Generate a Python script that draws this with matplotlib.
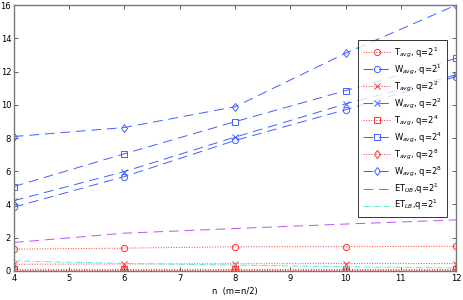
import numpy as np
import matplotlib
matplotlib.use('Agg')
import matplotlib.pyplot as plt

n = [4, 6, 8, 10, 12]

# T_avg (red, dotted) and W_avg (blue, dashed) for q = 2^1, 2^2, 2^4, 2^8
t_q1 = [1.31, 1.37, 1.45, 1.46, 1.48]
w_q1 = [3.84, 5.68, 7.85, 9.70, 11.70]
t_q2 = [0.40, 0.42, 0.43, 0.44, 0.44]
w_q2 = [4.23, 5.98, 8.05, 10.05, 11.80]
t_q4 = [0.12, 0.12, 0.12, 0.12, 0.12]
w_q4 = [5.08, 7.05, 8.98, 10.85, 12.80]
t_q8 = [0.03, 0.03, 0.03, 0.03, 0.03]
w_q8 = [8.09, 8.63, 9.88, 13.10, 16.00]
et_ub = [1.71, 2.27, 2.55, 2.82, 3.07]
et_lb = [0.60, 0.45, 0.35, 0.25, 0.18]

red = '#ff3030'
blue = '#4060ff'
dash = (10, 6)

fig = plt.figure(figsize=(4.63, 3.0), dpi=100)
ax = fig.add_axes([0.030, 0.097, 0.955, 0.886])

kw = dict(lw=0.7, ms=4.5, mfc='none', mew=0.7)
ax.plot(n, t_q1, ':', color=red, marker='o', label=r'T$_{avg}$, q=2$^1$', **kw)
ax.plot(n, w_q1, '--', color=blue, marker='o', label=r'W$_{avg}$, q=2$^1$', dashes=dash, **kw)
ax.plot(n, t_q2, ':', color=red, marker='x', label=r'T$_{avg}$, q=2$^2$', **dict(kw, ms=4))
ax.plot(n, w_q2, '--', color=blue, marker='x', label=r'W$_{avg}$, q=2$^2$', dashes=dash, **dict(kw, ms=4))
ax.plot(n, t_q4, ':', color=red, marker='s', label=r'T$_{avg}$, q=2$^4$', **dict(kw, ms=4))
ax.plot(n, w_q4, '--', color=blue, marker='s', label=r'W$_{avg}$, q=2$^4$', dashes=dash, **dict(kw, ms=4))
ax.plot(n, t_q8, ':', color=red, marker='d', label=r'T$_{avg}$, q=2$^8$', **kw)
ax.plot(n, w_q8, '--', color=blue, marker='d', label=r'W$_{avg}$, q=2$^8$', dashes=dash, **kw)
ax.plot(n, et_ub, '--', color='#c050f0', lw=0.7, dashes=dash, label=r'ET$_{UB}$,q=2$^1$')
ax.plot(n, et_lb, '-.', color='#60e8d8', lw=0.7, label=r'ET$_{LB}$,q=2$^1$')

ax.set_xlim(4, 12)
ax.set_ylim(0, 16)
ax.set_xticks(range(4, 13))
ax.set_yticks(range(0, 17, 2))
ax.tick_params(direction='in', labelsize=6, length=3, width=0.6, top=True, right=True, pad=2, colors='#444444', labelcolor='black')
for s in ax.spines.values():
    s.set_color('#777777')
    s.set_linewidth(1.0)
ax.set_xlabel('n  (m=n/2)', fontsize=6, labelpad=3)

leg = ax.legend(loc='upper right', bbox_to_anchor=(0.980, 0.868), fontsize=6, frameon=True,
                fancybox=False, edgecolor='black', handlelength=3.3, labelspacing=0.3,
                borderpad=0.6, handletextpad=0.4, borderaxespad=0)
leg.get_frame().set_linewidth(0.7)

fig.savefig('out.png', dpi=100)
